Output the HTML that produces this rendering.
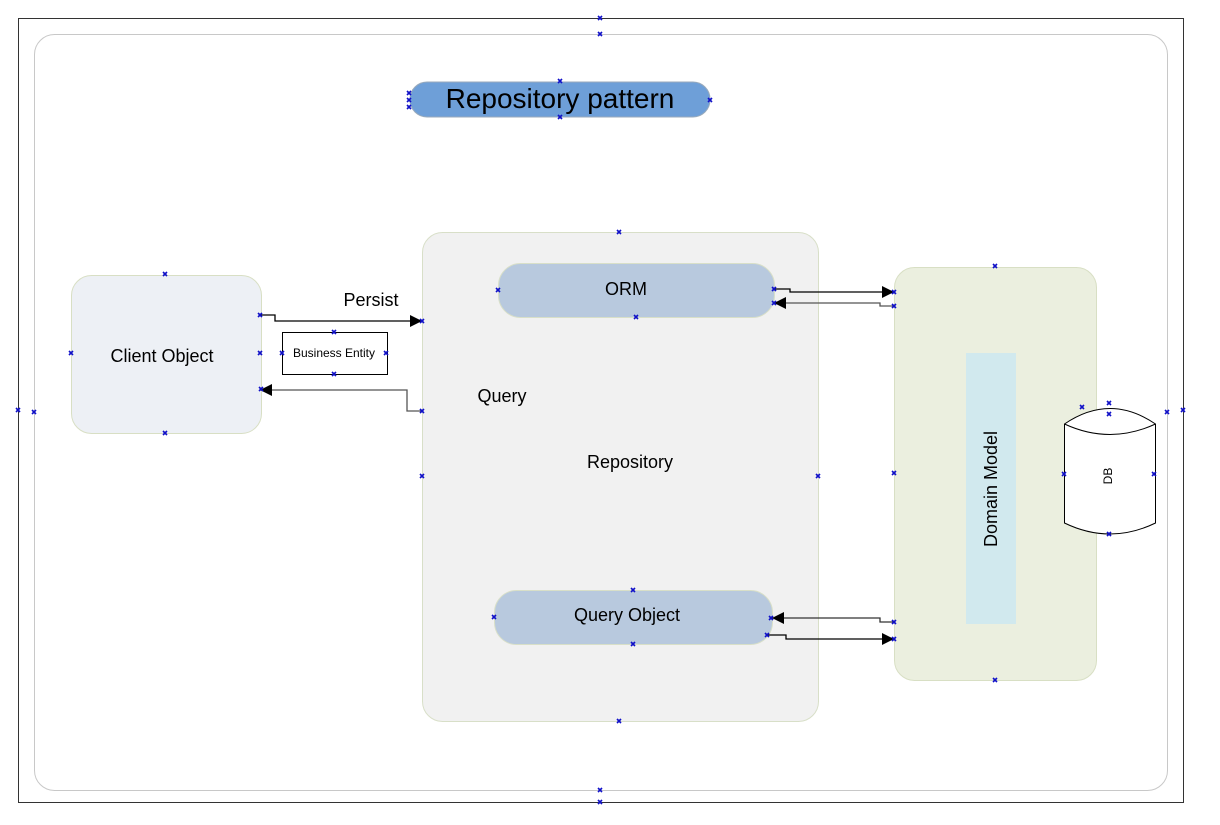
<!DOCTYPE html>
<html><head><meta charset="utf-8"><style>body{margin:0;background:#fff}svg{display:block}text{font-family:"Liberation Sans",sans-serif}</style></head><body>
<svg width="1220" height="825" viewBox="0 0 1220 825" xmlns="http://www.w3.org/2000/svg">
<defs>
<marker id="a" viewBox="0 0 10 10" refX="10" refY="5" markerWidth="12" markerHeight="12" markerUnits="userSpaceOnUse" orient="auto"><path d="M0,0L10,5L0,10z" fill="#000"/></marker>
<g id="x"><path d="M-2,-2L2,2M-2,2L2,-2" stroke="#1010c8" stroke-width="1.6"/></g>
</defs>
<rect x="18.5" y="18.5" width="1165" height="784" fill="#fff" stroke="#333"/>
<rect x="34.5" y="34.5" width="1133" height="756" rx="20" fill="#fff" stroke="#c8c8c8"/>
<rect x="410" y="82" width="300" height="35" rx="17" fill="#6e9fd8" stroke="#9ab"/>
<text x="560" y="108" font-size="28" text-anchor="middle" fill="#000">Repository pattern</text>
<rect x="71.5" y="275.5" width="190" height="158" rx="20" fill="#edf0f5" stroke="#d8dfc4"/>
<text x="162" y="362" font-size="18" text-anchor="middle">Client Object</text>
<rect x="422.5" y="232.5" width="396" height="489" rx="20" fill="#f1f1f1" stroke="#d8dfc8"/>
<text x="502" y="402" font-size="18" text-anchor="middle">Query</text>
<text x="630" y="468" font-size="18" text-anchor="middle">Repository</text>
<rect x="498.5" y="263.5" width="276" height="54" rx="22" fill="#b8c9de" stroke="#d8dfc8"/>
<text x="626" y="295" font-size="18" text-anchor="middle">ORM</text>
<rect x="494.5" y="590.5" width="278" height="54" rx="22" fill="#b8c9de" stroke="#d8dfc8"/>
<text x="627" y="621" font-size="18" text-anchor="middle">Query Object</text>
<rect x="894.5" y="267.5" width="202" height="413" rx="20" fill="#ebefdf" stroke="#d8dfc4"/>
<rect x="966" y="353" width="50" height="271" fill="#d1e9ee"/>
<text transform="translate(997,489) rotate(-90)" font-size="18" text-anchor="middle">Domain Model</text>
<path d="M1064.5,424 Q1110,393 1155.5,424 L1155.5,523 Q1110,545 1064.5,523 Z" fill="#fff" stroke="#000"/>
<path d="M1064.5,424 Q1110,445 1155.5,424" fill="none" stroke="#000"/>
<text transform="translate(1112,476) rotate(-90)" font-size="12" text-anchor="middle">DB</text>
<rect x="282.5" y="332.5" width="105" height="42" fill="#fff" stroke="#000"/>
<text x="334" y="357" font-size="12" text-anchor="middle">Business Entity</text>
<text x="371" y="306" font-size="18" text-anchor="middle">Persist</text>
<g fill="none" stroke-width="1.3">
<path d="M260,315H275V321H422" stroke="#000" marker-end="url(#a)"/>
<path d="M422,411H407V390H260" stroke="#555" marker-end="url(#a)"/>
<path d="M774,289H790V292H894" stroke="#000" marker-end="url(#a)"/>
<path d="M894,306H880V303H774" stroke="#555" marker-end="url(#a)"/>
<path d="M894,622H880V618H772" stroke="#333" marker-end="url(#a)"/>
<path d="M767,635H786V639H894" stroke="#000" marker-end="url(#a)"/>
</g>
<g>
<use href="#x" x="600" y="18"/><use href="#x" x="600" y="34"/><use href="#x" x="600" y="790"/><use href="#x" x="600" y="802"/>
<use href="#x" x="18" y="410"/><use href="#x" x="34" y="412"/><use href="#x" x="1167" y="412"/><use href="#x" x="1183" y="410"/>
<use href="#x" x="560" y="81"/><use href="#x" x="560" y="117"/><use href="#x" x="409" y="93"/><use href="#x" x="409" y="100"/><use href="#x" x="409" y="107"/><use href="#x" x="710" y="100"/>
<use href="#x" x="165" y="274"/><use href="#x" x="165" y="433"/><use href="#x" x="71" y="353"/><use href="#x" x="260" y="353"/><use href="#x" x="260" y="315"/><use href="#x" x="261" y="389"/>
<use href="#x" x="334" y="332"/><use href="#x" x="334" y="374"/><use href="#x" x="282" y="353"/><use href="#x" x="386" y="353"/>
<use href="#x" x="619" y="232"/><use href="#x" x="619" y="721"/><use href="#x" x="422" y="321"/><use href="#x" x="422" y="411"/><use href="#x" x="422" y="476"/><use href="#x" x="818" y="476"/>
<use href="#x" x="498" y="290"/><use href="#x" x="636" y="317"/><use href="#x" x="774" y="289"/><use href="#x" x="774" y="303"/>
<use href="#x" x="633" y="590"/><use href="#x" x="633" y="644"/><use href="#x" x="494" y="617"/><use href="#x" x="771" y="618"/><use href="#x" x="767" y="635"/>
<use href="#x" x="995" y="266"/><use href="#x" x="995" y="680"/><use href="#x" x="894" y="292"/><use href="#x" x="894" y="306"/><use href="#x" x="894" y="473"/><use href="#x" x="894" y="622"/><use href="#x" x="894" y="639"/>
<use href="#x" x="1109" y="403"/><use href="#x" x="1109" y="414"/><use href="#x" x="1082" y="407"/><use href="#x" x="1064" y="474"/><use href="#x" x="1154" y="474"/><use href="#x" x="1109" y="534"/>
</g>
</svg>
</body></html>
